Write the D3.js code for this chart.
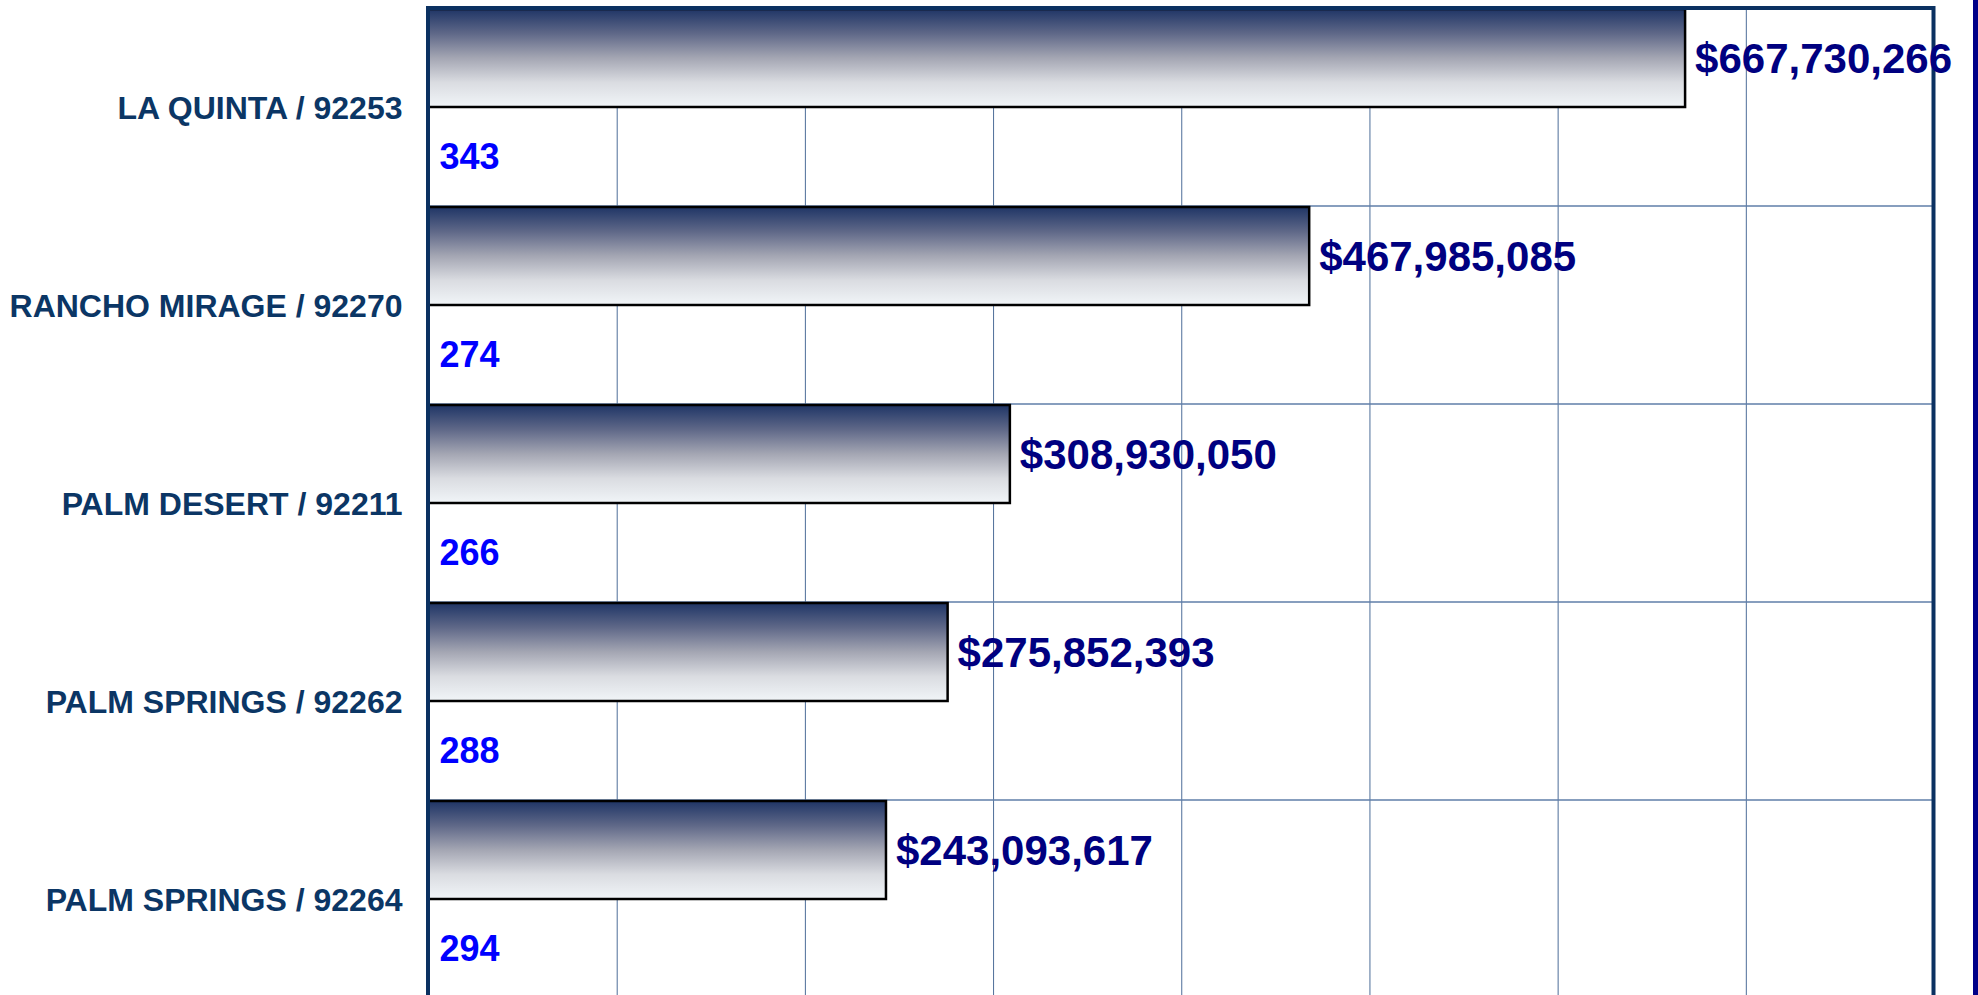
<!DOCTYPE html>
<html>
<head>
<meta charset="utf-8">
<script src="https://cdn.jsdelivr.net/npm/d3@7"></script>
<style>
  body { margin: 0; background: #fff; overflow: hidden; }
  svg { display: block; font-family: "Liberation Sans", Arial, sans-serif; font-weight: bold; }
</style>
</head>
<body>
<svg width="1978" height="995"></svg>
<script>
/*global d3*/

// data
var categories = ["LA QUINTA / 92253", "RANCHO MIRAGE / 92270", "PALM DESERT / 92211",
                  "PALM SPRINGS / 92262", "PALM SPRINGS / 92264"];
var volumes = [667730266, 467985085, 308930050, 275852393, 243093617];
var counts = [343, 274, 266, 288, 294];
var xTicks = [0, 100e6, 200e6, 300e6, 400e6, 500e6, 600e6, 700e6, 800e6];

var svg = d3.select("svg"),
    width = +svg.attr("width"),
    height = +svg.attr("height");

// plot box (runs past the bottom of the picture)
var plotLeft = 428.5, plotRight = 1934, plotTop = 8, plotBottom = 998;

var x = d3.scaleLinear()
    .domain([0, 800e6])
    .range([plotLeft, plotRight]);

var y = d3.scaleBand()
    .domain(categories)
    .range([plotTop, plotBottom])
    .padding(0);

var rows = categories.map(function(c, i) {
    return { name: c, value: volumes[i], count: counts[i] };
});

// bar gradient, dark navy on top fading to white
var grad = svg.append("defs").append("linearGradient")
    .attr("id", "barGrad")
    .attr("x1", 0).attr("y1", 0).attr("x2", 0).attr("y2", 1);
[[0, "#1f3566"], [0.25, "#5f6888"], [0.5, "#a4a6b3"], [0.75, "#dadce1"], [1, "#f1f5f8"]]
  .forEach(function(s) {
      grad.append("stop").attr("offset", s[0]).attr("stop-color", s[1]);
  });

// grid lines
svg.append("g")
    .attr("class", "grid")
    .attr("transform", "translate(0," + plotBottom + ")")
    .call(d3.axisBottom(x).tickValues(xTicks).tickSize(-(plotBottom - plotTop)).tickFormat(""))
  .call(function(g) { g.select(".domain").remove(); })
  .selectAll("line")
    .attr("stroke", "#4d6d98")
    .attr("stroke-width", 1);

svg.append("g")
    .selectAll("line")
    .data(categories.slice(1))
    .enter().append("line")
      .attr("x1", plotLeft).attr("x2", plotRight)
      .attr("y1", function(d) { return y(d); })
      .attr("y2", function(d) { return y(d); })
      .attr("stroke", "#5f7ea8")
      .attr("stroke-width", 1.5);

// bars
svg.append("g")
    .selectAll("rect")
    .data(rows)
    .enter().append("rect")
      .attr("x", x(0))
      .attr("y", function(d) { return y(d.name) + 1; })
      .attr("width", function(d) { return x(d.value) - x(0); })
      .attr("height", y.bandwidth() / 2 - 1)
      .attr("fill", "url(#barGrad)")
      .attr("stroke", "#000")
      .attr("stroke-width", 2.5);

// plot frame
svg.append("rect")
    .attr("x", plotLeft - 0.5)
    .attr("y", plotTop)
    .attr("width", plotRight - plotLeft)
    .attr("height", plotBottom - plotTop + 10)
    .attr("fill", "none")
    .attr("stroke", "#0b3161")
    .attr("stroke-width", 4);

// outer navy edge on the right
svg.append("rect")
    .attr("x", 1973)
    .attr("y", 0)
    .attr("width", 5)
    .attr("height", height)
    .attr("fill", "#000088");

// category labels
svg.append("g")
    .selectAll("text")
    .data(rows)
    .enter().append("text")
      .attr("x", plotLeft - 26)
      .attr("y", function(d) { return y(d.name) + y.bandwidth() / 2; })
      .attr("dy", "0.36em")
      .attr("text-anchor", "end")
      .attr("font-size", 32)
      .attr("fill", "#0b3665")
      .text(function(d) { return d.name; });

// dollar values
svg.append("g")
    .selectAll("text")
    .data(rows)
    .enter().append("text")
      .attr("x", function(d) { return x(d.value) + 10; })
      .attr("y", function(d) { return y(d.name) + y.bandwidth() / 4; })
      .attr("dy", "0.36em")
      .attr("font-size", 42)
      .attr("fill", "#000080")
      .text(function(d) { return "$" + d3.format(",")(d.value); });

// unit counts
svg.append("g")
    .selectAll("text")
    .data(rows)
    .enter().append("text")
      .attr("x", plotLeft + 11)
      .attr("y", function(d) { return y(d.name) + y.bandwidth() * 0.75; })
      .attr("dy", "0.36em")
      .attr("font-size", 36)
      .attr("fill", "#0000ff")
      .text(function(d) { return d.count; });
</script>
</body>
</html>
